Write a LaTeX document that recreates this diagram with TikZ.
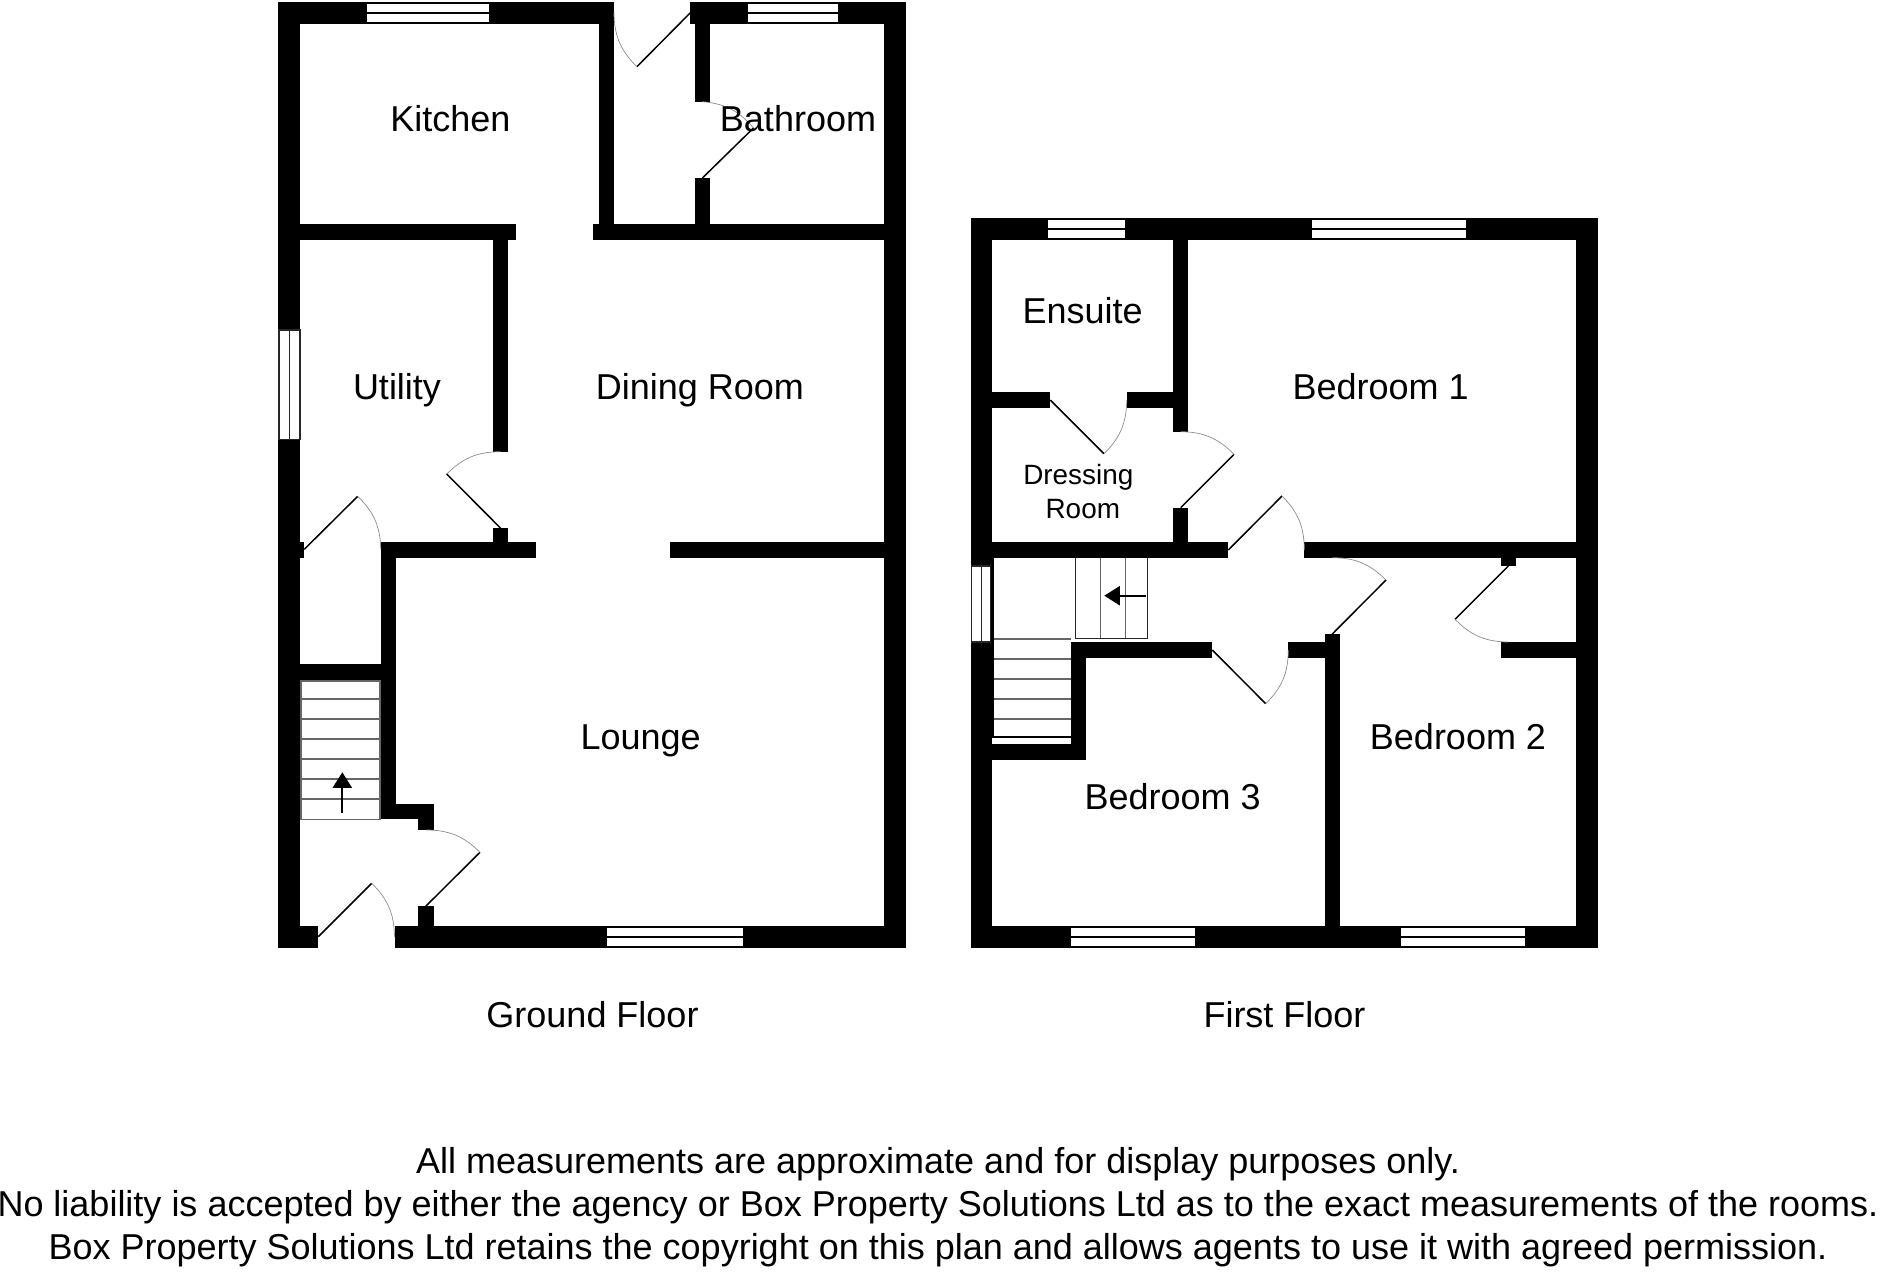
\documentclass[tikz,border=0pt]{standalone}
\usepackage{fontspec}
\setmainfont{Liberation Sans}
\usetikzlibrary{arrows.meta}

\begin{document}
\begin{tikzpicture}[
        x=1pt,y=-1pt,
        wall/.style={fill=black},
        pane/.style={fill=white},
        bar/.style={draw=black,line width=2pt},
        sidepane/.style={fill=white,draw=black!85,line width=1.4pt},
        leaf/.style={draw=black,line width=1.5pt},
        swing/.style={draw=black!45,line width=0.7pt,bend angle=22.5},
        tread/.style={draw=black!60,line width=1.6pt},
        thread/.style={draw=black!85,line width=1pt},
        stairup/.style={draw=black,line width=2.2pt,-{Triangle[length=15.5pt,width=19pt]}},
        room/.style={font=\fontsize{36}{40}\selectfont,anchor=base,inner sep=0pt},
        smallroom/.style={font=\fontsize{27.9}{32}\selectfont,anchor=base,inner sep=0pt}
    ]
        \useasboundingbox (0,0) rectangle (1880,1272);

        % ground floor walls
        \fill[wall] (278.3,2) rectangle (614,24);
        \fill[wall] (278.3,2) rectangle (300,947.7);
        \fill[wall] (598.8,2) rectangle (614,239.7);
        \fill[wall] (690.4,2) rectangle (906.4,24);
        \fill[wall] (694.5,2) rectangle (709.9,101.7);
        \fill[wall] (694.5,178) rectangle (709.9,224);
        \fill[wall] (884.4,2) rectangle (906.4,947.7);
        \fill[wall] (278.3,224) rectangle (516.3,239.7);
        \fill[wall] (592.6,224) rectangle (906.4,239.7);
        \fill[wall] (492.7,224) rectangle (508.3,451.7);
        \fill[wall] (492.7,528.3) rectangle (508.3,557.7);
        \fill[wall] (300,542) rectangle (304.3,557.7);
        \fill[wall] (380.7,542) rectangle (536.3,557.7);
        \fill[wall] (670,542) rectangle (906.4,557.7);
        \fill[wall] (380.7,542) rectangle (396.3,819.3);
        \fill[wall] (300,664) rectangle (396.3,680.7);
        \fill[wall] (380.7,804) rectangle (434.3,819.3);
        \fill[wall] (418.3,804) rectangle (434.3,830);
        \fill[wall] (418.3,906) rectangle (434.3,926);
        \fill[wall] (278.3,926) rectangle (318.3,947.7);
        \fill[wall] (394.7,926) rectangle (906.4,947.7);

        % ground floor windows
        \fill[pane] (366.6,4) rectangle (488.5,22.3);
        \draw[bar] (366.6,12.7) -- (488.5,12.7);
        \fill[pane] (748,4) rectangle (838.4,22.3);
        \draw[bar] (748,12.7) -- (838.4,12.7);
        \fill[pane] (606.7,927.7) rectangle (742.7,946);
        \draw[bar] (606.7,936.7) -- (742.7,936.7);
        \draw[sidepane] (279,330) rectangle (300,439.3);
        \draw[sidepane] (289.3,330) -- (289.3,439.3);

        % ground floor doors
        \draw[leaf] (690.4,12.7) -- (636.9,66.7);
        \draw[swing] (636.9,66.7) to[bend left] (614,12.7);
        \draw[leaf] (702.4,178) -- (753.5,128);
        \draw[swing] (753.5,128) to[bend right] (702.4,101.7);
        \draw[leaf] (304.3,549.3) -- (357.7,496.3);
        \draw[swing] (357.7,496.3) to[bend left] (380.7,549.3);
        \draw[leaf] (500.7,528.3) -- (446.7,474);
        \draw[swing] (446.7,474) to[bend left] (500.7,451.7);
        \draw[leaf] (426,906) -- (480,852.3);
        \draw[swing] (480,852.3) to[bend right] (426,830);
        \draw[leaf] (318.3,936.7) -- (371.7,883.3);
        \draw[swing] (371.7,883.3) to[bend left] (394.5,936.7);

        % ground floor stairs
        \draw[tread] (301,680.7) rectangle (380,819.3);
        \draw[tread] (301,698.7) -- (380,698.7);
        \draw[tread] (301,718.7) -- (380,718.7);
        \draw[tread] (301,739) -- (380,739);
        \draw[tread] (301,759) -- (380,759);
        \draw[tread] (301,779) -- (380,779);
        \draw[tread] (301,799) -- (380,799);
        \coordinate (upfoot) at (342.3,813.3);
        \coordinate (uptop) at (342.3,772.3);
        \draw[stairup] (upfoot) -- (uptop);

        % first floor walls
        \fill[wall] (970.7,218.3) rectangle (1598.3,240);
        \fill[wall] (970.7,218.3) rectangle (992.3,947.7);
        \fill[wall] (970.7,542) rectangle (994.3,738);
        \fill[wall] (1576.3,218.3) rectangle (1598.3,947.7);
        \fill[wall] (970.7,926) rectangle (1598.3,947.7);
        \fill[wall] (1172.7,240) rectangle (1188.3,431.7);
        \fill[wall] (1172.7,507.7) rectangle (1188.3,557.7);
        \fill[wall] (992.3,392) rectangle (1050.3,407.7);
        \fill[wall] (1126.7,392) rectangle (1172.7,407.7);
        \fill[wall] (992.3,542) rectangle (1228.3,557.7);
        \fill[wall] (1304.3,542) rectangle (1576.3,557.7);
        \fill[wall] (1500.7,557.7) rectangle (1516.3,566);
        \fill[wall] (1500.7,642) rectangle (1576.3,657.7);
        \fill[wall] (1070.7,642) rectangle (1212.3,657.7);
        \fill[wall] (1288.3,642) rectangle (1340.3,657.7);
        \fill[wall] (1325,634) rectangle (1340.3,947.7);
        \fill[wall] (1070.7,642) rectangle (1086.3,759.7);
        \fill[wall] (992.3,744) rectangle (1086.3,759.7);

        % first floor windows
        \fill[pane] (1048.3,220) rectangle (1124.7,238.3);
        \draw[bar] (1048.3,228.7) -- (1124.7,228.7);
        \fill[pane] (1312.3,220) rectangle (1466,238.3);
        \draw[bar] (1312.3,228.7) -- (1466,228.7);
        \fill[pane] (1070.7,927.7) rectangle (1195,946);
        \draw[bar] (1070.7,936.7) -- (1195,936.7);
        \fill[pane] (1400.5,927.7) rectangle (1524.5,946);
        \draw[bar] (1400.5,936.7) -- (1524.5,936.7);
        \draw[sidepane] (971.7,566) rectangle (990.7,642);
        \draw[sidepane] (981.7,566) -- (981.7,642);

        % first floor doors
        \draw[leaf] (1050.3,400) -- (1104,453.7);
        \draw[swing] (1104,453.7) to[bend right] (1126.7,400);
        \draw[leaf] (1180.7,507.7) -- (1234,454.3);
        \draw[swing] (1234,454.3) to[bend right] (1180.7,431.7);
        \draw[leaf] (1228.3,550) -- (1282,496);
        \draw[swing] (1282,496) to[bend left] (1304.3,550);
        \draw[leaf] (1212.3,650) -- (1265.7,703.7);
        \draw[swing] (1265.7,703.7) to[bend right] (1288.3,650);
        \draw[leaf] (1332.3,634) -- (1386,580);
        \draw[swing] (1386,580) to[bend right] (1332.3,557.7);
        \draw[leaf] (1508.3,566) -- (1455,619.3);
        \draw[swing] (1455,619.3) to[bend right] (1508.3,642);

        % first floor stairs
        \draw[thread] (1075.3,557.7) -- (1075.3,639);
        \draw[tread,line width=1pt] (1100.3,557.7) -- (1100.3,639);
        \draw[tread,line width=1pt] (1125,557.7) -- (1125,639);
        \draw[thread] (1147.7,557.7) -- (1147.7,639);
        \draw[thread,line width=1.4pt] (1075.3,638.7) -- (1147.7,638.7);
        \draw[tread] (994.3,639) -- (1070.7,639);
        \draw[tread] (994.3,659) -- (1070.7,659);
        \draw[tread] (994.3,679) -- (1070.7,679);
        \draw[tread] (994.3,699) -- (1070.7,699);
        \draw[tread] (994.3,719) -- (1070.7,719);
        \draw[bar] (994.3,737) -- (1070.7,737);
        \coordinate (landfoot) at (1146,595.7);
        \coordinate (landtop) at (1104.3,595.7);
        \draw[stairup] (landfoot) -- (landtop);

        % labels
        \node[room] (kitchen) at (450.3,131.7) {Kitchen};
        \node[room] (bathroom) at (798,131.7) {Bathroom};
        \node[room] (utility) at (397,399.3) {Utility};
        \node[room] (dining) at (700,399.3) {Dining Room};
        \node[room] (lounge) at (640.7,749.3) {Lounge};
        \node[room] (ensuite) at (1082.7,323.3) {Ensuite};
        \node[smallroom] (dressing) at (1078.3,484) {Dressing};
        \node[smallroom] (dressroom) at (1082.8,518.3) {Room};
        \node[room] (bedone) at (1380.6,399.3) {Bedroom 1};
        \node[room] (bedtwo) at (1458,749.3) {Bedroom 2};
        \node[room] (bedthree) at (1172.6,809.3) {Bedroom 3};
        \node[room] (groundfloor) at (592.5,1027.5) {Ground Floor};
        \node[room] (firstfloor) at (1284.5,1027.5) {First Floor};

        \node[room] (noteone) at (938,1173.7) {All measurements are approximate and for display purposes only.};
        \node[room] (notetwo) at (938,1216.7) {No liability is accepted by either the agency or Box Property Solutions Ltd as to the exact measurements of the rooms.};
        \node[room] (notethree) at (938,1259.3) {Box Property Solutions Ltd retains the copyright on this plan and allows agents to use it with agreed permission.};
    \end{tikzpicture}
\end{document}
